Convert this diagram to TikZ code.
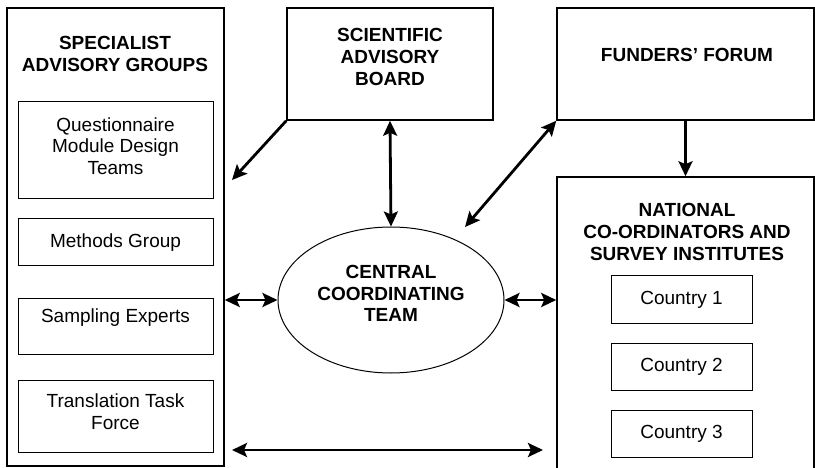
\documentclass[tikz,border=0pt]{standalone}
\usepackage{fontspec}
\setmainfont{Liberation Sans}
\usetikzlibrary{positioning,arrows.meta,shapes.geometric}
\tikzset{
    group/.style={
           rectangle,
           draw=black, line width=1.5pt,
           inner sep=0pt,
           },
    member/.style={
           rectangle,
           draw=black, line width=1pt,
           inner sep=2pt,
           align=center,
           font=\fontsize{19}{21.5}\selectfont,
           },
    heading/.style={
           inner sep=0pt,
           align=center,
           font=\fontsize{19}{22}\selectfont\bfseries,
           },
    tip/.tip={Stealth[length=15pt,width=14pt,inset=3pt]},
    link/.style={
           line width=2.8pt,
           },
}

\begin{document}
\begin{tikzpicture}[x=1pt, y=-1pt]
    \useasboundingbox (0,0) rectangle (815,468);

    % Specialist groups: outer frame, its heading and the four teams
    \node[group, minimum width=217, minimum height=458] (sag) at (115.5,237) {};
    \node[heading] (sagtitle) at (115,54) {SPECIALIST\\ADVISORY GROUPS};

    \node[member,       % layout (defined above)
    minimum width=195,  % same width for every team
    minimum height=97,
    text depth=9pt] (quest) at (115.5,150.5)   % text sits a bit high
    {Questionnaire\\Module Design\\Teams};

    \node[member, minimum width=195, minimum height=47,
    below=19pt of quest] (methods)
    {Methods Group};

    \node[member, minimum width=195, minimum height=56,
    text depth=20pt,
    below=31pt of methods] (sampling)
    {Sampling Experts};

    \node[member, minimum width=195, minimum height=72,
    text depth=9pt,
    below=25pt of sampling] (transl)
    {Translation Task\\Force};

    % Board and forum along the top
    \node[group, minimum width=206, minimum height=112] (sab) at (390,64) {};
    \node[heading] (sabtitle) at (390,57) {SCIENTIFIC\\ADVISORY\\BOARD};

    \node[group, minimum width=257, minimum height=112] (ff) at (685.5,64) {};
    \node[heading] (fftitle) at (687,55) {FUNDERS’ FORUM};

    % National side: frame runs off the page at the bottom
    \node[group, minimum width=257, minimum height=312] (ncsi) at (685.5,333) {};
    \node[heading] (ncsititle) at (687,232)
    {NATIONAL\\CO-ORDINATORS AND\\SURVEY INSTITUTES};

    \node[member, minimum width=141, minimum height=47] (c1) at (681.5,299.5) {Country 1};
    \node[member, minimum width=141, minimum height=47, below=19pt of c1] (c2) {Country 2};
    \node[member, minimum width=141, minimum height=47, below=19pt of c2] (c3) {Country 3};

    % Central team
    \node[ellipse, draw=black, line width=1pt,
    minimum width=226, minimum height=146,
    inner sep=0pt, align=center,
    text depth=13pt,
    font=\fontsize{19}{21.5}\selectfont\bfseries] (cct) at (391,300)
    {CENTRAL\\COORDINATING\\TEAM};

    % free ends of some arrows
    \coordinate (sagin) at (232,180);
    \coordinate (cctup) at (465,227);
    \coordinate (botl) at (232,450);
    \coordinate (botr) at (543,450);

    % the links
    \draw[link, -tip] (sab.south west) -- (sagin);
    \draw[link, tip-tip] (sab.south) -- (cct.north);
    \draw[link, tip-tip] (ff.south west) -- (cctup);
    \draw[link, -tip] (ff.south) -- (ncsi.north);
    \draw[link, tip-tip] (cct.west -| sag.east) -- (cct.west);
    \draw[link, tip-tip] (cct.east) -- (cct.east -| ncsi.west);
    \draw[link, tip-tip] (botl) -- (botr);
\end{tikzpicture}
\end{document}
